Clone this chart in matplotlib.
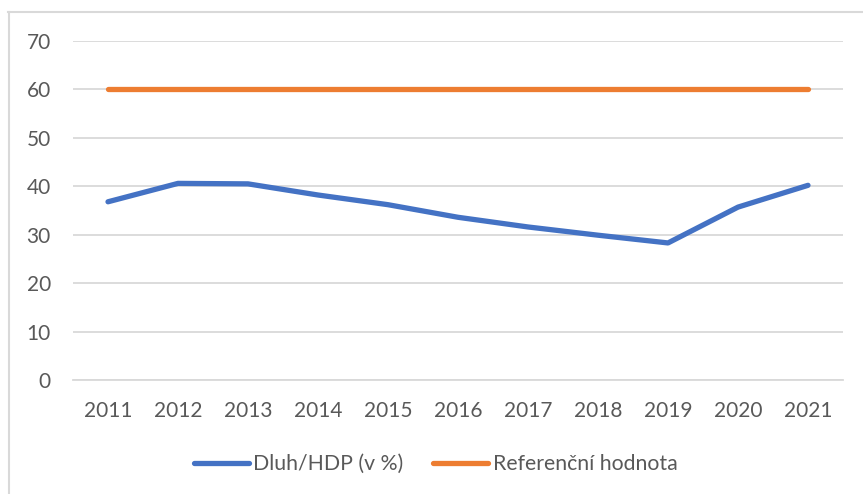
import matplotlib
matplotlib.use('Agg')
import matplotlib.pyplot as plt
from matplotlib.lines import Line2D

years = ['2011', '2012', '2013', '2014', '2015', '2016', '2017', '2018', '2019', '2020', '2021']
dluh_hdp = [36.8, 40.6, 40.5, 38.2, 36.2, 33.6, 31.6, 29.9, 28.3, 35.7, 40.2]
referencni = [60] * 11

plt.rcParams['font.family'] = ['Lato', 'DejaVu Sans']
txt_col = '#595959'
grid_col = '#d9d9d9'

fig = plt.figure(figsize=(8.63, 4.94), dpi=100)
ax = fig.add_axes([73 / 863, 1 - 380 / 494, 770 / 863, 339 / 494])

x = range(len(years))
ax.plot(x, dluh_hdp, color='#4472c4', lw=3.8, solid_capstyle='round', label='Dluh/HDP (v %)')
ax.plot(x, referencni, color='#ed7d31', lw=3.8, solid_capstyle='round', label='Referenční hodnota')

ax.set_xlim(-0.5, len(years) - 0.5)
ax.set_ylim(0, 70)
ax.set_yticks(range(0, 71, 10))
ax.set_xticks(list(x))
ax.set_xticklabels(years)
ax.yaxis.grid(True, color=grid_col, lw=1.3)
ax.set_axisbelow(True)
for s in ['top', 'right', 'left']:
    ax.spines[s].set_visible(False)
ax.spines['bottom'].set_color(grid_col)
ax.spines['bottom'].set_linewidth(1.3)
ax.tick_params(length=0, labelsize=15, labelcolor=txt_col)
ax.tick_params(axis='y', pad=16)
ax.tick_params(axis='x', pad=15)

fig.legend(loc='center', bbox_to_anchor=(0.5 + 4 / 863, 1 - 464 / 494), ncol=2, frameon=False,
           fontsize=15.3, labelcolor=txt_col, handlelength=2.6, handletextpad=0.2,
           columnspacing=1.4)

# chart border (only left and top visible)
fig.add_artist(Line2D([8.5 / 863, 8.5 / 863], [0, 1 - 12 / 494], color=grid_col, lw=1.5))
fig.add_artist(Line2D([8 / 863, 1], [1 - 12.5 / 494, 1 - 12.5 / 494], color=grid_col, lw=1.5))

fig.savefig('out.png', dpi=100)
